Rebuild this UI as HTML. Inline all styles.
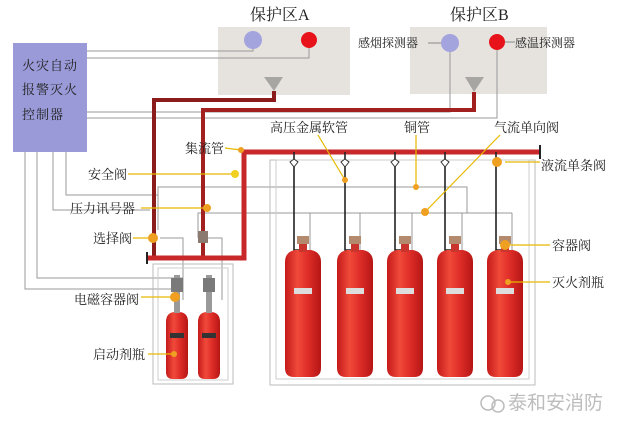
<!DOCTYPE html>
<html><head><meta charset="utf-8"><style>
body{margin:0;background:#fff}
svg{display:block}
text{font-family:"Liberation Serif","Noto Serif CJK SC",serif;font-size:13px;fill:#222}
</style></head><body>
<svg width="625" height="431" viewBox="0 0 625 431" xmlns="http://www.w3.org/2000/svg">
<defs>
<linearGradient id="cyl" x1="0" x2="1" y1="0" y2="0">
<stop offset="0" stop-color="#c41a1a"/><stop offset="0.35" stop-color="#f04a3a"/><stop offset="0.6" stop-color="#e2302a"/><stop offset="1" stop-color="#b51515"/>
</linearGradient>
<g id="big">
<path d="M-18,262 Q-18,252 -8,250 L8,250 Q18,252 18,262 L18,368 Q18,377 9,377 L-9,377 Q-18,377 -18,368 Z" fill="url(#cyl)"/>
<rect x="-4" y="240" width="8" height="12" fill="#c9342c"/>
<rect x="-6" y="236" width="12" height="8" fill="#b48a6e"/>
<rect x="-9" y="288" width="18" height="6" fill="#ddd"/>
</g>
<g id="small">
<path d="M-11,322 Q-11,313 -3,312 L3,312 Q11,313 11,322 L11,372 Q11,379 4,379 L-4,379 Q-11,379 -11,372 Z" fill="url(#cyl)"/>
<rect x="-3" y="275" width="6" height="38" fill="#9a9a9a"/>
<rect x="-6" y="278" width="12" height="14" fill="#7a7a7a"/>
<rect x="-7" y="333" width="14" height="5" fill="#333"/>
</g>
</defs>
<rect x="218" y="27" width="132" height="68" fill="#e6e3de"/>
<rect x="410" y="27" width="137" height="67" fill="#e6e3de"/>
<text x="250" y="20" style="font-size:16px">保护区A</text>
<text x="450" y="20" style="font-size:16px">保护区B</text>
<circle cx="253" cy="40" r="9" fill="#a3a3dd"/>
<circle cx="309" cy="40" r="8" fill="#e8131a"/>
<circle cx="450" cy="43" r="9" fill="#a3a3dd"/>
<circle cx="497" cy="42" r="8" fill="#e8131a"/>
<polygon points="264,77 283,77 274,91" fill="#a8a6a2"/>
<polygon points="465,77 484,77 474,92" fill="#a8a6a2"/>
<text x="358" y="47" style="font-size:12px">感烟探测器</text>
<text x="515" y="47" style="font-size:12px">感温探测器</text>
<line x1="428" y1="43" x2="441" y2="43" stroke="#888" stroke-width="1"/>
<line x1="505" y1="42" x2="515" y2="42" stroke="#888" stroke-width="1"/>
<rect x="13" y="43" width="74" height="109" fill="#9a9ad8"/>
<text x="22" y="70" style="font-size:13px;letter-spacing:1px">火灾自动</text>
<text x="22" y="94" style="font-size:13px;letter-spacing:1px">报警灭火</text>
<text x="22" y="119" style="font-size:13px;letter-spacing:1px">控制器</text>
<g stroke="#999" stroke-width="1" fill="none">
<polyline points="87,51 253,51 253,49"/>
<polyline points="87,58 309,58 309,48"/>
<polyline points="87,112 450,112 450,52"/>
<polyline points="87,118 497,118 497,50"/>
<polyline points="66,152 66,195 158,195"/>
<polyline points="53,152 53,210 150,210"/>
<polyline points="37,152 37,278 183,278"/>
<polyline points="25,152 25,289 172,289"/>
<polyline points="158,230 158,187 467,187 467,213"/>
<polyline points="198,238 198,213 512,213"/>
<polyline points="160,238 183,238 183,300"/>
<polyline points="207,238 222,238 222,300"/>
<line x1="310" y1="213" x2="310" y2="250"/>
<line x1="360" y1="213" x2="360" y2="250"/>
<line x1="412" y1="213" x2="412" y2="250"/>
<line x1="462" y1="213" x2="462" y2="250"/>
<line x1="512" y1="213" x2="512" y2="250"/>
<rect x="270" y="160" width="265" height="225" stroke="#bbb"/>
<rect x="276" y="160" width="253" height="219" stroke="#ccc"/>
<rect x="153" y="264" width="80" height="120" stroke="#bbb"/>
<rect x="158" y="268" width="70" height="112" stroke="#ccc"/>
</g>
<polyline points="274,91 274,100 154,100 154,258" stroke="#8b1c1c" stroke-width="4" fill="none"/>
<polyline points="474,92 474,110 203,110 203,258" stroke="#a32020" stroke-width="4" fill="none"/>
<polyline points="540,152 244,152 244,258 148,258" stroke="#c8282a" stroke-width="5" fill="none"/>
<line x1="540" y1="145" x2="540" y2="159" stroke="#222" stroke-width="2"/>
<line x1="147" y1="252" x2="147" y2="264" stroke="#222" stroke-width="2"/>
<g stroke="#222" stroke-width="1.6" fill="none">
<polyline points="294,152 294,250 303,250"/>
<polyline points="345,152 345,250 355,250"/>
<polyline points="395,152 395,250 405,250"/>
<polyline points="445,152 445,250 455,250"/>
<polyline points="496,152 496,250 505,250"/>
</g>
<g fill="#fff" stroke="#333" stroke-width="1">
<path d="M290,162 l4,-3 l4,3 l-4,5z"/><path d="M341,162 l4,-3 l4,3 l-4,5z"/>
<path d="M391,162 l4,-3 l4,3 l-4,5z"/><path d="M441,162 l4,-3 l4,3 l-4,5z"/>
</g>
<use href="#big" x="303"/><use href="#big" x="355"/><use href="#big" x="405"/><use href="#big" x="455"/><use href="#big" x="505"/>
<use href="#small" x="177"/><use href="#small" x="209"/>
<rect x="198" y="231" width="10" height="12" fill="#8a7a70"/>
<g stroke="#e6b800" stroke-width="1.2" fill="none">
<line x1="225" y1="148" x2="241" y2="150"/>
<line x1="128" y1="174" x2="235" y2="174"/>
<line x1="141" y1="208" x2="207" y2="208"/>
<line x1="133" y1="238" x2="153" y2="238"/>
<line x1="141" y1="297" x2="175" y2="297"/>
<line x1="148" y1="354" x2="174" y2="354"/>
<line x1="318" y1="135" x2="345" y2="180"/>
<line x1="416" y1="135" x2="416" y2="187"/>
<line x1="500" y1="135" x2="425" y2="212"/>
<line x1="505" y1="162" x2="540" y2="162"/>
<line x1="510" y1="245" x2="550" y2="245"/>
<line x1="508" y1="282" x2="550" y2="282"/>
</g>
<g fill="#f0a020">
<circle cx="241" cy="150" r="3"/><circle cx="235" cy="174" r="4" fill="#f2d020"/>
<circle cx="207" cy="208" r="4"/><circle cx="153" cy="238" r="5"/>
<circle cx="175" cy="297" r="5"/><circle cx="174" cy="354" r="3"/>
<circle cx="345" cy="180" r="3"/><circle cx="416" cy="187" r="3"/>
<circle cx="425" cy="212" r="4"/><circle cx="497" cy="162" r="5"/>
<circle cx="505" cy="245" r="5"/><circle cx="508" cy="282" r="3"/>
</g>
<text x="185" y="153">集流管</text>
<text x="88" y="179">安全阀</text>
<text x="70" y="213">压力讯号器</text>
<text x="93" y="243">选择阀</text>
<text x="74" y="304">电磁容器阀</text>
<text x="93" y="359">启动剂瓶</text>
<text x="270" y="132">高压金属软管</text>
<text x="404" y="132">铜管</text>
<text x="494" y="132">气流单向阀</text>
<text x="541" y="170">液流单条阀</text>
<text x="552" y="250">容器阀</text>
<text x="552" y="287">灭火剂瓶</text>
<circle cx="488" cy="403" r="7" fill="none" stroke="#bbb" stroke-width="1.5"/>
<circle cx="498" cy="406" r="6" fill="none" stroke="#bbb" stroke-width="1.5"/>
<text x="508" y="409" style="font-family:'Liberation Sans','Noto Sans CJK SC',sans-serif;font-size:19px;fill:#bdbdbd">泰和安消防</text>
</svg>
</body></html>
